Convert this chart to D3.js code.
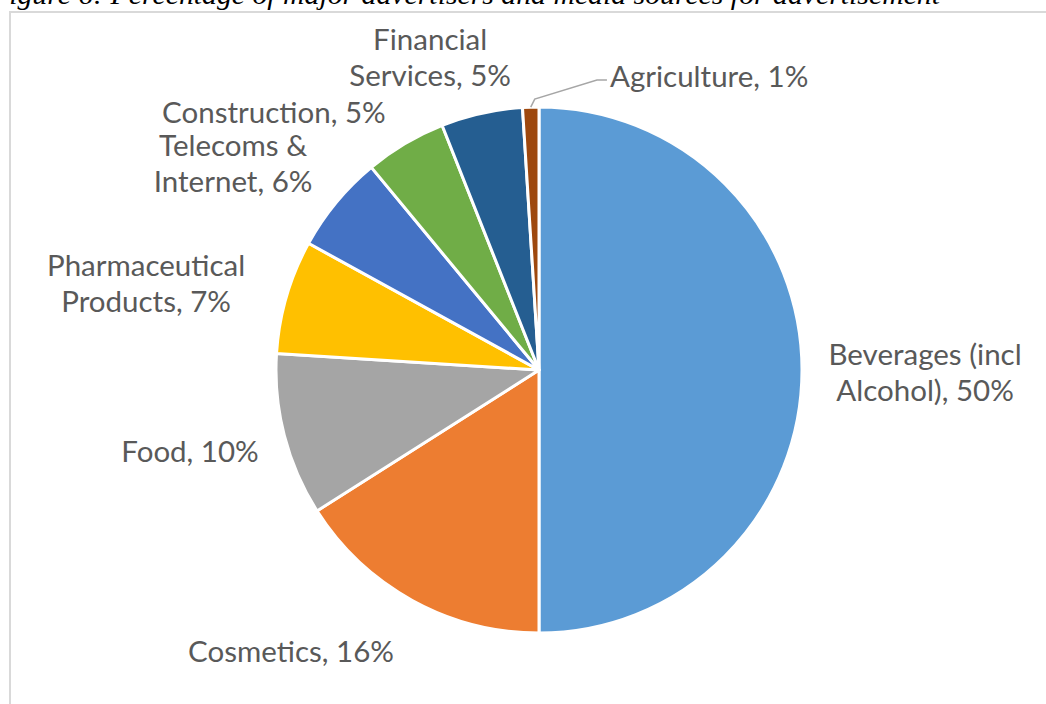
<!DOCTYPE html>
<html>
<head>
<meta charset="utf-8">
<script src="https://cdn.jsdelivr.net/npm/d3@7"></script>
<style>
  html, body { margin: 0; padding: 0; background: #fff; }
  svg { display: block; }
</style>
</head>
<body>
<svg id="chart" width="1046" height="704"></svg>
<script>
// ---------------- data ----------------
const categories = [
  "Beverages (incl Alcohol)",
  "Cosmetics",
  "Food",
  "Pharmaceutical Products",
  "Telecoms & Internet",
  "Construction",
  "Financial Services",
  "Agriculture"
];
const values = [50, 16, 10, 7, 6, 5, 5, 1];
const labelLines = [
  ["Beverages (incl", "Alcohol), 50%"],
  ["Cosmetics, 16%"],
  ["Food, 10%"],
  ["Pharmaceutical", "Products, 7%"],
  ["Telecoms &", "Internet, 6%"],
  ["Construction, 5%"],
  ["Financial", "Services, 5%"],
  ["Agriculture, 1%"]
];
const colors = ["#5B9BD5", "#ED7D31", "#A5A5A5", "#FFC000", "#4472C4", "#70AD47", "#255E91", "#9E480E"];
const caption = "Figure 6: Percentage of major advertisers and media sources for advertisement";

// ---------------- layout ----------------
const W = 1046, H = 704;
const cx = 539, cy = 370, R = 263;
// label centre offsets in units of the radius (Excel best-fit placement)
const labelOffset = [
  [1.468, 0.008], [-0.943, 1.068], [-1.327, 0.308], [-1.494, -0.331],
  [-1.163, -0.787], [-1.008, -0.981], [-0.414, -1.190], [0.650, -1.118]
];

const svg = d3.select("#chart");

// caption (cut off at top, as in the source page)
svg.append("text")
  .attr("x", -9).attr("y", 4)
  .attr("font-family", "Liberation Serif, serif")
  .attr("font-style", "italic")
  .attr("font-size", 28)
  .attr("fill", "#000")
  .attr("textLength", 949)
  .attr("lengthAdjust", "spacingAndGlyphs")
  .text(caption);

// chart frame
svg.append("rect")
  .attr("x", 10).attr("y", 12)
  .attr("width", W + 20).attr("height", H + 20)
  .attr("fill", "none")
  .attr("stroke", "#d9d9d9")
  .attr("stroke-width", 2);

const pie = d3.pie().sort(null).value(d => d)(values);
const arc = d3.arc().innerRadius(0).outerRadius(R);

const g = svg.append("g").attr("transform", `translate(${cx},${cy})`);

g.selectAll("path.slice")
  .data(pie)
  .join("path")
  .attr("class", "slice")
  .attr("d", arc)
  .attr("fill", (d, i) => colors[i])
  .attr("stroke", "#fff")
  .attr("stroke-width", 3)
  .attr("stroke-linejoin", "round");

// labels
const fs = 29.5, lh = 36;
const labels = g.selectAll("text.lbl")
  .data(pie)
  .join("text")
  .attr("class", "lbl")
  .attr("font-family", "Lato, 'Open Sans', sans-serif")
  .attr("font-size", fs)
  .attr("fill", "#595959")
  .attr("text-anchor", (d, i) => i === 7 ? "start" : "middle");

labels.each(function(d, i) {
  const lines = labelLines[i];
  const [ox, oy] = labelOffset[i];
  let x = ox * R, y = oy * R;
  if (i === 7) x = x - 100;
  const t = d3.select(this);
  lines.forEach((ln, j) => {
    t.append("tspan")
      .attr("x", x)
      .attr("y", y + (j - (lines.length - 1) / 2) * lh + fs * 0.36)
      .text(ln);
  });
});

// leader line for the small Agriculture slice
const agri = pie[7];
const mid = (agri.startAngle + agri.endAngle) / 2;
const p0 = [Math.sin(mid) * R, -Math.cos(mid) * R];
const lx = labelOffset[7][0] * R - 100, ly = labelOffset[7][1] * R;
const leader = [p0, [p0[0] + 4, p0[1] - 8], [lx - 13, ly + 4], [lx - 3, ly + 4]];
g.append("path")
  .attr("d", d3.line()(leader))
  .attr("fill", "none")
  .attr("stroke", "#a6a6a6")
  .attr("stroke-width", 1.5);
</script>
</body>
</html>
